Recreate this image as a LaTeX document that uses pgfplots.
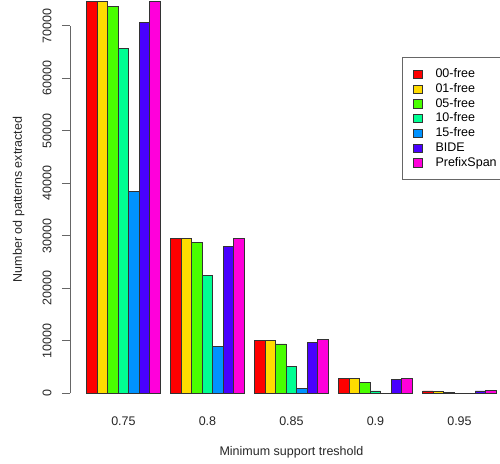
\documentclass[border=0pt]{standalone}
\usepackage{pgfplots}
\pgfplotsset{compat=1.18}
\usepackage{fontspec}
\setmainfont{Liberation Sans}
\definecolor{c1}{HTML}{FF0000}
\definecolor{c2}{HTML}{FFDB00}
\definecolor{c3}{HTML}{49FF00}
\definecolor{c4}{HTML}{00FF92}
\definecolor{c5}{HTML}{0092FF}
\definecolor{c6}{HTML}{4900FF}
\definecolor{c7}{HTML}{FF00DB}
\newcommand{\rf}{\fontsize{12.5}{15}\selectfont}
\begin{document}
\begin{tikzpicture}
\begin{axis}[
  at={(70.3pt,50pt)}, anchor=south west,
  scale only axis, width=442.3pt, height=427.3pt,
  xmin=-0.56, xmax=41.56, ymin=-3750, ymax=77620,
  axis lines*=left, axis line style={draw=none},
  clip=false,
  xtick={4.5,12.5,20.5,28.5,36.5},
  xticklabels={0.75,0.8,0.85,0.9,0.95},
  x tick style={draw=none},
  ytick={0,10000,20000,30000,40000,50000,60000,70000},
  scaled y ticks=false,
  y tick style={draw=black!60, line width=0.9pt},
  tick align=outside, major tick length=8.3pt,
  /pgf/number format/.cd, fixed, 1000 sep={}, assume math mode=true, /pgfplots/.cd,
  tick label style={font=\rf, text=black!85},
  x tick label style={anchor=base},
  xticklabel shift=3.9pt,
  y tick label style={rotate=90, anchor=base},
  yticklabel shift=10.5pt,
  xlabel={Minimum support treshold},
  ylabel={Number od patterns extracted},
  label style={font=\rf, text=black!85},
  xlabel style={at={(axis description cs:0.5,-0.0995)}, anchor=base},
  ylabel style={at={(axis description cs:-0.1092,0.5)}, anchor=base, rotate=0},
  ybar, bar width=1,
  every axis plot/.append style={draw=black!80, line width=0.8pt, bar shift=0pt},
  legend style={at={(0.7493,0.8324)}, anchor=north west, draw=black!60, line width=0.8pt,
    inner xsep=11.3pt, inner ysep=9.6pt, font=\rf, row sep=0pt,
    nodes={inner xsep=0pt, inner ysep=1.5pt, text height=9pt, text depth=2.7pt, text width=56pt},
    /tikz/every odd column/.style={column sep=13pt}},
  legend cell align=left,
  legend image code/.code={\draw[#1, draw=black!80, line width=0.8pt] (0pt,-4.1pt) rectangle (8.3pt,4.2pt);},
]
\addplot[fill=c1] coordinates {(1.5,74600) (9.5,29520) (17.5,10150) (25.5,2790) (33.5,440)};
\addplot[fill=c2] coordinates {(2.5,74600) (10.5,29520) (18.5,10150) (26.5,2790) (34.5,390)};
\addplot[fill=c3] coordinates {(3.5,73700) (11.5,28690) (19.5,9390) (27.5,2090) (35.5,190)};
\addplot[fill=c4] coordinates {(4.5,65700) (12.5,22400) (20.5,5200) (28.5,440) (36.5,20)};
\addplot[fill=c5] coordinates {(5.5,38400) (13.5,8880) (21.5,890) (29.5,50) (37.5,10)};
\addplot[fill=c6] coordinates {(6.5,70600) (14.5,28000) (22.5,9710) (30.5,2670) (38.5,440)};
\addplot[fill=c7] coordinates {(7.5,74600) (15.5,29520) (23.5,10220) (31.5,2860) (39.5,470)};
\legend{00-free,01-free,05-free,10-free,15-free,BIDE,PrefixSpan}
\draw[black!60, line width=0.9pt] (axis cs:-0.56,0) -- (axis cs:-0.56,70000);
\end{axis}
\pgfresetboundingbox
\useasboundingbox (0,0) rectangle (500pt,463pt);
\end{tikzpicture}
\end{document}
